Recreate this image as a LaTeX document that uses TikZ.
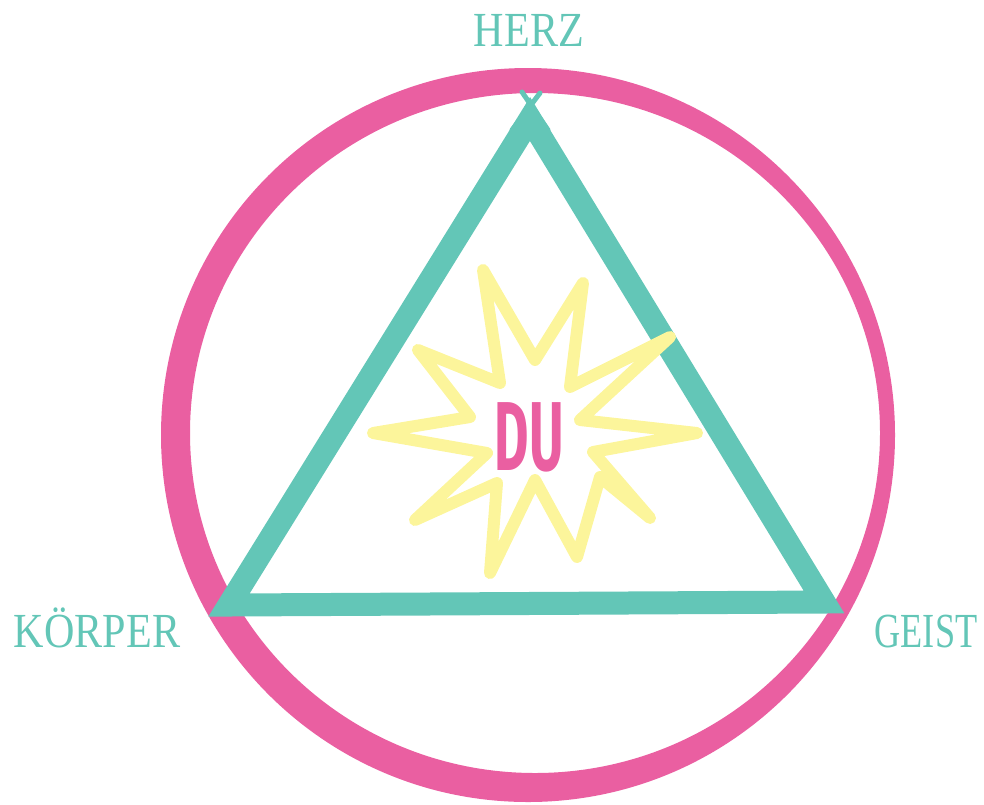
\documentclass[tikz,border=0pt]{standalone}
\usepackage{fontspec}
\setmainfont{Liberation Serif}
\newfontfamily\dufont{Fira Sans}
\definecolor{ringpink}{HTML}{EA5FA1}
\definecolor{tealc}{HTML}{63C6B7}
\definecolor{staryellow}{HTML}{FCF59B}
\tikzset{
  lbl/.style={text=tealc, font=\fontsize{49}{49}\selectfont, inner sep=0pt, xscale=0.86},
}
\begin{document}
\begin{tikzpicture}[x=1pt,y=-1pt]
\useasboundingbox (0,0) rectangle (984,804);
% ring
\fill[ringpink, even odd rule] (528,435) circle[radius=367pt] (535,433) ellipse[x radius=345pt, y radius=340pt];
% triangle
\coordinate (apex) at (530,119);
\coordinate (bl) at (229,605);
\coordinate (br) at (824,602);
\draw[tealc, line width=23pt, line join=miter] (apex) -- (bl) -- (br) -- cycle;
\coordinate (x1) at (522,92);
\coordinate (x2) at (540,93);
\coordinate (x3) at (512,130);
\coordinate (x4) at (548,130);
\draw[tealc, line width=5pt, line cap=round] (x3) -- (x2);
\draw[tealc, line width=5pt, line cap=round] (x4) -- (x1);
% starburst
\draw[staryellow, line width=12pt, line join=round]
 (697,433) -- (593,452) -- (650,518) -- (600,477) -- (577,557) -- (535,480) -- (490,573)
 -- (497,483) -- (415,520) -- (487,453) -- (373,433) -- (470,417) -- (418,350)
 -- (500,383) -- (483,270) -- (535,360) -- (583,283) -- (570,387) -- (670,337)
 -- (580,420) -- cycle;
% labels
\node[lbl, anchor=base] (herz) at (529,46) {HERZ};
\node[lbl, anchor=base] (koerper) at (97,647) {KÖRPER};
\node[lbl, anchor=base, xscale=0.86] (geist) at (926,647) {GEIST};
\node[text=ringpink, font=\dufont\bfseries\fontsize{98}{98}\selectfont, inner sep=0pt, xscale=0.54, anchor=base] (du) at (529,470) {DU};
\end{tikzpicture}
\end{document}
